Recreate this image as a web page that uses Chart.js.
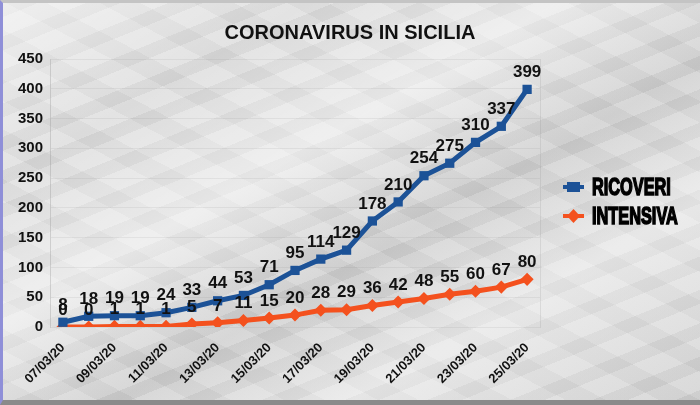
<!DOCTYPE html>
<html>
<head>
<meta charset="utf-8">
<script src="https://cdn.jsdelivr.net/npm/chart.js@4"></script>
<style>
  html, body { margin: 0; padding: 0; }
  body { width: 700px; height: 405px; overflow: hidden; }
  #wrap {
    position: relative; width: 700px; height: 405px; box-sizing: border-box;
    border-top: 3px solid #c4c4c4; border-bottom: 5px solid #8a8a8a; border-left: 3px solid #8f8fd8;
    background:
      linear-gradient(150deg, rgba(255,255,255,0.6) 0%, rgba(255,255,255,0.1) 22%, rgba(255,255,255,0.5) 40%, rgba(0,0,0,0.04) 58%, rgba(255,255,255,0.4) 75%, rgba(0,0,0,0.03) 100%),
      repeating-linear-gradient(158deg, rgba(0,0,0,0.04) 0 13px, rgba(255,255,255,0.1) 13px 31px),
      repeating-linear-gradient(28deg, rgba(0,0,0,0.03) 0 19px, rgba(255,255,255,0.08) 19px 44px),
      #dadada;
  }
  canvas { position: absolute; left: -3px; top: -3px; }
</style>
</head>
<body>
<div id="wrap"><canvas id="chart" width="700" height="405"></canvas></div>
<script>
  var dates = ['07/03/20', '08/03/20', '09/03/20', '10/03/20', '11/03/20', '12/03/20', '13/03/20',
    '14/03/20', '15/03/20', '16/03/20', '17/03/20', '18/03/20', '19/03/20', '20/03/20', '21/03/20',
    '22/03/20', '23/03/20', '24/03/20', '25/03/20'];
  var ricoveri = [8, 18, 19, 19, 24, 33, 44, 53, 71, 95, 114, 129, 178, 210, 254, 275, 310, 337, 399];
  var intensiva = [0, 0, 1, 1, 1, 5, 7, 11, 15, 20, 28, 29, 36, 42, 48, 55, 60, 67, 80];
  var yTicks = [0, 50, 100, 150, 200, 250, 300, 350, 400, 450];

  var FONT = "'Liberation Sans', Arial, sans-serif";

  // numbers above every point
  var valueLabels = {
    id: 'valueLabels',
    afterDatasetsDraw: function (chart) {
      var ctx = chart.ctx;
      ctx.save();
      ctx.font = 'bold 17px ' + FONT;
      ctx.fillStyle = '#111';
      ctx.textAlign = 'center';
      ctx.textBaseline = 'middle';
      chart.data.datasets.forEach(function (ds, i) {
        chart.getDatasetMeta(i).data.forEach(function (pt, j) {
          ctx.fillText(String(ds.data[j]), pt.x, pt.y - 17);
        });
      });
      ctx.restore();
    }
  };

  // legend on the right, narrow heavy text
  var sideLegend = {
    id: 'sideLegend',
    afterDraw: function (chart) {
      var ctx = chart.ctx;
      var x0 = chart.chartArea.right + 23;
      var rows = [187, 216];
      ctx.save();
      chart.data.datasets.forEach(function (ds, i) {
        var y = rows[i];
        ctx.strokeStyle = ds.borderColor;
        ctx.lineWidth = 4;
        ctx.beginPath();
        ctx.moveTo(x0, y);
        ctx.lineTo(x0 + 21, y);
        ctx.stroke();
        ctx.fillStyle = ds.borderColor;
        if (i === 0) {
          ctx.fillRect(x0 + 4, y - 5, 13, 10);
        } else {
          ctx.beginPath();
          ctx.moveTo(x0 + 10.5, y - 7);
          ctx.lineTo(x0 + 17, y);
          ctx.lineTo(x0 + 10.5, y + 7);
          ctx.lineTo(x0 + 4, y);
          ctx.closePath();
          ctx.fill();
        }
        ctx.save();
        ctx.translate(x0 + 29, y);
        ctx.scale(0.68, 1);
        ctx.font = 'bold 24px ' + FONT;
        ctx.fillStyle = '#000';
        ctx.strokeStyle = '#000';
        ctx.lineWidth = 1.6;
        ctx.textBaseline = 'middle';
        ctx.strokeText(ds.label, 0, 1);
        ctx.fillText(ds.label, 0, 1);
        ctx.restore();
      });
      ctx.restore();
    }
  };

  new Chart(document.getElementById('chart'), {
    type: 'line',
    data: {
      labels: dates,
      datasets: [
        {
          label: 'RICOVERI', data: ricoveri, borderColor: '#1c5297', backgroundColor: '#1c5297',
          borderWidth: 5, pointStyle: 'rect', pointRadius: 3, tension: 0
        },
        {
          label: 'INTENSIVA', data: intensiva, borderColor: '#f4511e', backgroundColor: '#f4511e',
          borderWidth: 5, pointStyle: 'rectRot', pointRadius: 3, tension: 0
        }
      ]
    },
    options: {
      responsive: false,
      animation: false,
      layout: { padding: 0 },
      plugins: {
        legend: { display: false },
        tooltip: { enabled: false },
        title: {
          display: true,
          text: 'CORONAVIRUS IN SICILIA',
          color: '#111',
          font: { family: FONT, size: 20, weight: 'bold' },
          padding: { top: 21, bottom: 14 }
        }
      },
      scales: {
        x: {
          offset: true,
          afterFit: function (s) { s.height = 78; },
          grid: { display: false, drawTicks: false },
          border: { display: false },
          ticks: {
            autoSkip: false, maxRotation: 45, minRotation: 45, padding: 13, color: '#111',
            font: { family: FONT, size: 13, weight: 'bold' },
            callback: function (v, i) { return i % 2 === 0 ? dates[i] : ''; }
          }
        },
        y: {
          min: 0, max: 450,
          afterFit: function (s) { s.width = 50; },
          afterBuildTicks: function (s) { s.ticks = yTicks.map(function (v) { return { value: v }; }); },
          grid: { color: 'rgba(140,140,140,0.13)', drawTicks: false },
          border: { color: 'rgba(140,140,140,0.3)' },
          ticks: { padding: 7, color: '#111', font: { family: FONT, size: 15, weight: 'bold' } }
        },
        // empty right-hand space that holds the legend
        room: {
          position: 'right', min: 0, max: 1,
          afterFit: function (s) { s.width = 160; },
          grid: { display: false, drawTicks: false },
          border: { color: 'rgba(140,140,140,0.18)' },
          ticks: { display: false }
        }
      }
    },
    plugins: [valueLabels, sideLegend]
  });
</script>
</body>
</html>
